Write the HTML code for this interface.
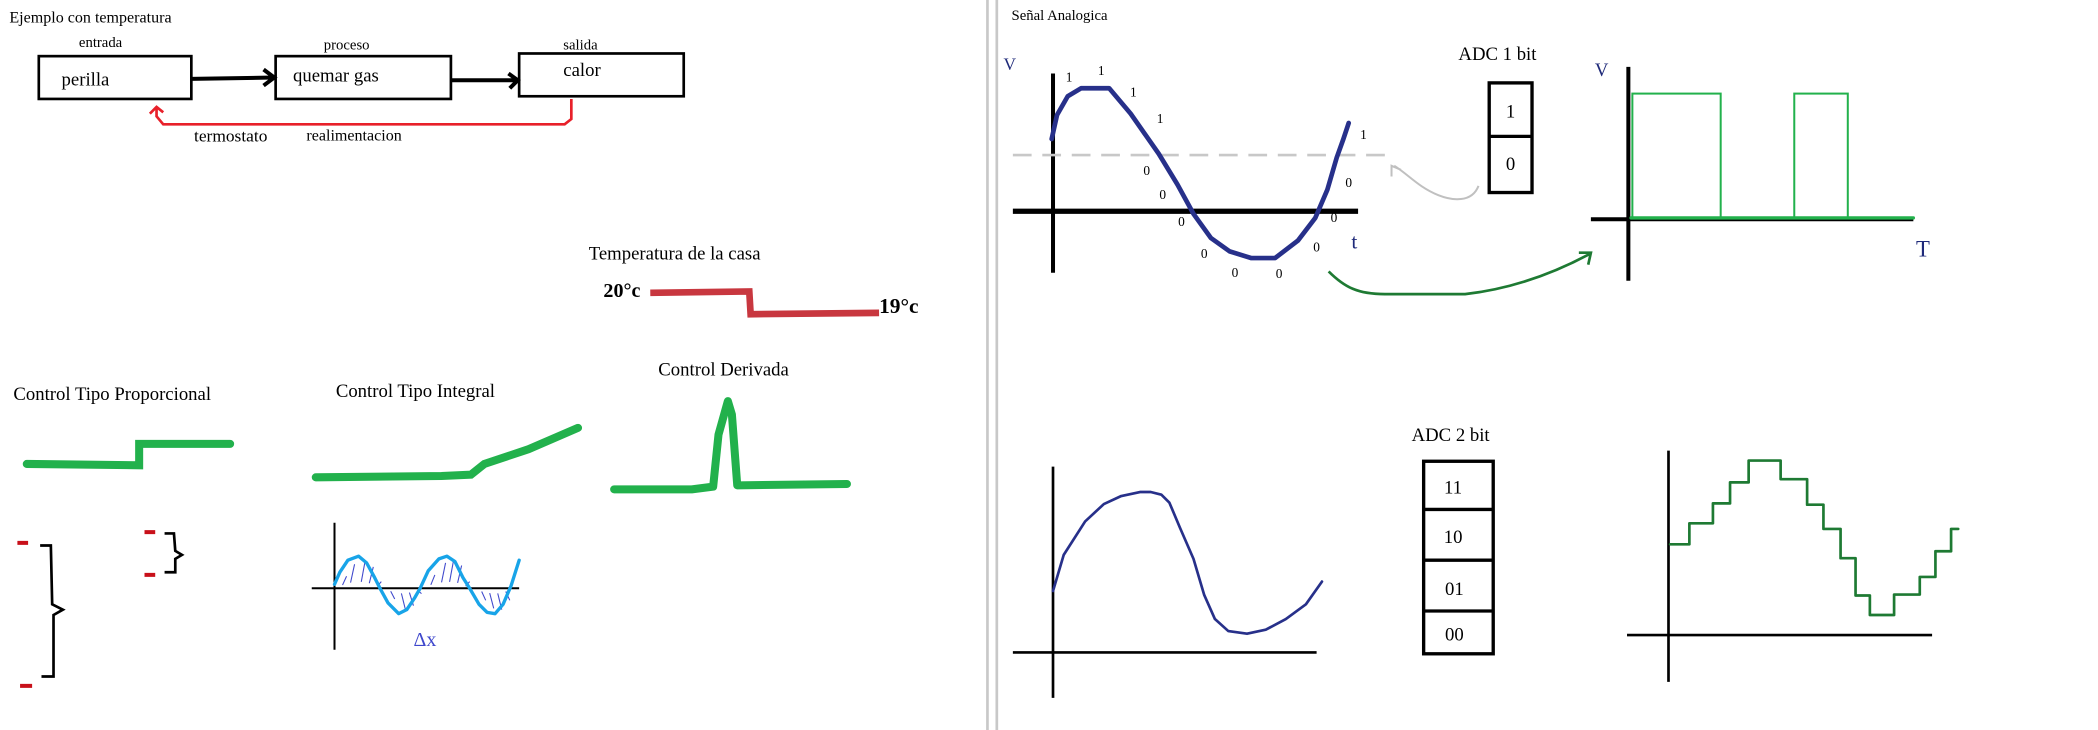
<!DOCTYPE html>
<html><head><meta charset="utf-8"><style>
html,body{margin:0;padding:0;background:#fff;overflow:hidden}
svg{display:block}
text{font-family:"Liberation Serif",serif;fill:#000}
</style></head><body>
<svg id="s" width="2098" height="730" viewBox="0 0 1568 546" preserveAspectRatio="none">
<line x1="738" y1="0" x2="738" y2="546" stroke="#c8c8c8" stroke-width="2"/>
<line x1="745" y1="0" x2="745" y2="546" stroke="#c8c8c8" stroke-width="2"/>
<g>
<text x="7" y="17" font-size="12">Ejemplo con temperatura</text>
<text x="59" y="35" font-size="11">entrada</text>
<text x="242" y="37" font-size="11">proceso</text>
<text x="421" y="37" font-size="11">salida</text>
<rect x="29" y="42" width="114" height="32" fill="none" stroke="#000" stroke-width="2"/>
<text x="46" y="64" font-size="14">perilla</text>
<rect x="206" y="42" width="131" height="32" fill="none" stroke="#000" stroke-width="2"/>
<text x="219" y="61" font-size="14">quemar gas</text>
<rect x="388" y="40" width="123" height="32" fill="none" stroke="#000" stroke-width="2"/>
<text x="421" y="57" font-size="14">calor</text>
<path d="M143 59 L204 58 M197 52 L205 58 L197 64" fill="none" stroke="#000" stroke-width="3"/>
<path d="M337 60 L386 60 M380 55 L387 60 L381 66" fill="none" stroke="#000" stroke-width="3"/>
<path d="M427 74 L427 89 L422 93 L122 93 L117 87 L117 81 M112 85 L117 80 L122 84" fill="none" stroke="#e8202a" stroke-width="2"/>
<text x="145" y="106" font-size="13">termostato</text>
<text x="229" y="105" font-size="12">realimentacion</text>
</g>
<g>
<text x="440" y="194" font-size="14">Temperatura de la casa</text>
<text x="451" y="222" font-size="15" font-family="Liberation Sans" font-weight="bold">20°c</text>
<path d="M486 219 L560 218 L561 235 L657 234" fill="none" stroke="#c8373f" stroke-width="5"/>
<text x="657" y="234" font-size="16" font-family="Liberation Sans" font-weight="bold">19°c</text>
</g>
<text x="10" y="299" font-size="14">Control Tipo Proporcional</text>
<text x="251" y="297" font-size="14">Control Tipo Integral</text>
<text x="492" y="281" font-size="14">Control Derivada</text>
<path d="M20 347 L104 348 L104 332 L172 332" fill="none" stroke="#22b14c" stroke-width="6" stroke-linecap="round"/>
<path d="M236 357 L330 356 L352 355 L362 347 L395 336 L432 320" fill="none" stroke="#22b14c" stroke-width="6" stroke-linecap="round"/>
<path d="M459 366 L517 366 L533 364 L537 325 L544 300 L547 310 L551 363 L633 362" fill="none" stroke="#22b14c" stroke-width="6" stroke-linecap="round" stroke-linejoin="round"/>
<g fill="none" stroke-width="3">
<path d="M13 406h8 M15 513h9 M108 398h8 M108 430h8" stroke="#c8101a"/>
<path d="M30 408 L38 408 L39 452 L47 456 L40 460 L40 506 L31 506" stroke="#000" stroke-width="2"/>
<path d="M123 399 L130 399 L131 412 L136 415 L131 418 L131 428 L123 428" stroke="#000" stroke-width="2"/>
</g>
<g id="intg">
<line x1="250" y1="391" x2="250" y2="486" stroke="#000" stroke-width="1.5"/>
<line x1="233" y1="440" x2="388" y2="440" stroke="#000" stroke-width="1.5"/>
<text x="309" y="483" font-size="15" fill="#3f48cc" style="fill:#3f48cc" font-family="Liberation Sans">Δx</text>
</g>
<g>
<text x="756" y="15" font-size="11">Señal Analogica</text>
<text x="750" y="52" font-size="13" style="fill:#1f2a7a">V</text>
<line x1="787" y1="55" x2="787" y2="204" stroke="#000" stroke-width="3"/>
<line x1="757" y1="158" x2="1015" y2="158" stroke="#000" stroke-width="4"/>
<line x1="757" y1="116" x2="1035" y2="116" stroke="#c8c8c8" stroke-width="2" stroke-dasharray="14 8"/>
<text x="1010" y="186" font-size="16" style="fill:#1f2a7a">t</text>
<text x="1090" y="45" font-size="14">ADC 1 bit</text>
<rect x="1113" y="62" width="32" height="82" fill="none" stroke="#000" stroke-width="2.5"/>
<line x1="1113" y1="102" x2="1145" y2="102" stroke="#000" stroke-width="2.5"/>
<text x="1129" y="88" font-size="14" text-anchor="middle">1</text>
<text x="1129" y="127" font-size="14" text-anchor="middle">0</text>
<path d="M1105 139 C1100 152 1085 150 1075 146 C1060 140 1052 130 1042 124 M1040 132 L1040 124 L1047 127" fill="none" stroke="#c0c0c0" stroke-width="1.5"/>
<path d="M993 203 C1005 215 1015 220 1035 220 L1095 220 C1130 216 1160 205 1188 190 M1180 189 L1189 189 L1187 198" fill="none" stroke="#1e7a33" stroke-width="2"/>
<text x="1192" y="57" font-size="14" style="fill:#1f2a7a">V</text>
<line x1="1217" y1="50" x2="1217" y2="210" stroke="#000" stroke-width="3"/>
<line x1="1189" y1="164" x2="1430" y2="164" stroke="#000" stroke-width="3"/>
<text x="1432" y="192" font-size="17" style="fill:#1f2a7a">T</text>
<text x="1055" y="330" font-size="14">ADC 2 bit</text>
<rect x="1064" y="345" width="52" height="144" fill="none" stroke="#000" stroke-width="2.5"/>
<path d="M1064 381 H1116 M1064 419 H1116 M1064 457 H1116" stroke="#000" stroke-width="2.5"/>
<text x="1086" y="369" font-size="14" text-anchor="middle">11</text>
<text x="1086" y="406" font-size="14" text-anchor="middle">10</text>
<text x="1087" y="445" font-size="14" text-anchor="middle">01</text>
<text x="1087" y="479" font-size="14" text-anchor="middle">00</text>
<line x1="787" y1="349" x2="787" y2="522" stroke="#000" stroke-width="2"/>
<line x1="757" y1="488" x2="984" y2="488" stroke="#000" stroke-width="2"/>
<line x1="1247" y1="337" x2="1247" y2="510" stroke="#000" stroke-width="2"/>
<line x1="1216" y1="475" x2="1444" y2="475" stroke="#000" stroke-width="2"/>
</g>
</svg>
<script>
const NS='http://www.w3.org/2000/svg';
const svg=document.getElementById('s');
// Drawn curve points (overview units)
const analogX=[786,790,798,808,829,845,866,880,892,905,919,935,953,970,983,992,999,1004,1008];
const analogY=[104,86,72,66,66,85,115,138,160,178,188,193,193,180,163,142,118,104,92];
const bitLabels=['1','1','1','1','1','0','0','0','0','0','0','0','0','0'];
const bitX=[799,823,847,867,1019,857,869,883,900,923,956,984,997,1008];
const bitY=[61,56,72,92,104,131,149,169,193,207,208,188,166,140];
const pulseStarts=[1220,1341];
const pulseEnds=[1286,1381];
const pulseTop=70, pulseBase=163;
const curve2X=[787,795,811,825,838,852,860,868,874,882,892,900,908,918,932,946,961,976,988];
const curve2Y=[442,415,390,377,371,368,368,370,376,395,418,445,463,472,474,471,463,452,435];
const stairZX=[968,995,995,1028,1028,1052,1052,1078,1078,1123,1123,1160,1160,1183,1183,1207,1207,1228,1228,1248,1248,1282,1282,1318,1318,1340,1340,1362,1362,1372];
const stairZY=[1170,1170,1125,1125,1082,1082,1037,1037,990,990,1030,1030,1085,1085,1137,1137,1200,1200,1280,1280,1322,1322,1278,1278,1240,1240,1185,1185,1137,1137];
const sineX=[250,254,260,268,274,280,284,290,298,304,310,314,320,328,334,340,346,351,358,364,370,376,382,388];
const sineY=[437,428,419,416,421,432,440,451,459,456,447,440,427,418,416,420,432,440,452,458,459,452,438,419];
function ptsStr(xs,ys){return xs.map((x,i)=>x+','+ys[i]).join(' ');}
function poly(pts,stroke,w,name,parent){
 const p=document.createElementNS(NS,'polyline');
 p.setAttribute('points',pts);p.setAttribute('fill','none');p.setAttribute('stroke',stroke);
 p.setAttribute('stroke-width',w);p.setAttribute('stroke-linejoin','round');p.setAttribute('stroke-linecap','round');
 
 
 (parent||svg).appendChild(p);return p;}
// integral sine with hatch area
const intg=document.getElementById('intg');
const hatch=document.createElementNS(NS,'g');


for(let i=0;i<sineX.length-1;i+=1){
 const x=sineX[i],y=sineY[i];
 if(Math.abs(y-440)>6){const l=document.createElementNS(NS,'line');
 l.setAttribute('x1',x+2);l.setAttribute('y1',y>440?440+ (y-440)*0.2:440-(440-y)*0.2);
 l.setAttribute('x2',x+5);l.setAttribute('y2',y>440?y-3:y+3);
 l.setAttribute('stroke','#3f48cc');l.setAttribute('stroke-width','0.8');hatch.appendChild(l);}
}
intg.appendChild(hatch);
poly(ptsStr(sineX,sineY),'#18a4e8',2.5,'integral-sine',intg);
poly(ptsStr(analogX,analogY),'#27308a',3.5,'analog-signal');
bitLabels.forEach((b,i)=>{const t=document.createElementNS(NS,'text');
 t.setAttribute('x',bitX[i]);t.setAttribute('y',bitY[i]);t.setAttribute('font-size','10');
 t.setAttribute('text-anchor','middle');t.textContent=b;
 
 
 svg.appendChild(t);});
pulseStarts.forEach((s,i)=>{const r=document.createElementNS(NS,'rect');
 r.setAttribute('x',s);r.setAttribute('y',pulseTop);r.setAttribute('width',pulseEnds[i]-s);
 r.setAttribute('height',pulseBase-pulseTop);r.setAttribute('fill','none');r.setAttribute('stroke','#22b14c');r.setAttribute('stroke-width','1.5');
 
 
 svg.appendChild(r);});
poly('1219,163 1430,163','#22b14c',2.5,'digital-baseline');
poly(ptsStr(curve2X,curve2Y),'#27308a',2,'analog-signal-2');
poly(ptsStr(stairZX.map(z=>(732.4+z*0.5329).toFixed(1)),stairZY.map(z=>(z/2.874).toFixed(1))),'#1e7a33',2,'quantized-signal');
</script>
</body></html>
